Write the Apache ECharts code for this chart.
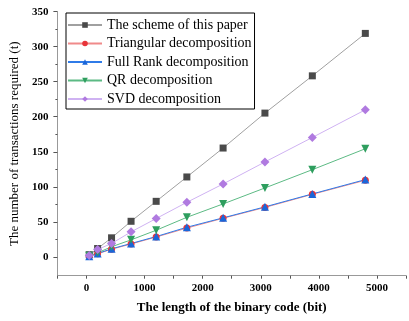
<!DOCTYPE html>
<html>
<head>
<meta charset="utf-8">
<script src="https://cdn.jsdelivr.net/npm/echarts@6/dist/echarts.min.js"></script>
<style>html,body{margin:0;padding:0;background:#fff;}#c{width:409px;height:321px;}</style>
</head>
<body>
<div id="c"></div>
<script>
var codeLengths = [48, 192, 432, 768, 1200, 1728, 2352, 3072, 3888, 4800];
var seriesNames = ['The scheme of this paper', 'Triangular decomposition', 'Full Rank decomposition', 'QR decomposition', 'SVD decomposition'];
var schemeValues = [3, 11.8, 27.1, 50.7, 79.2, 114.0, 155.3, 205.2, 258.4, 319.0];
var triangularValues = [1, 4.2, 10.8, 18.3, 28.2, 41.0, 55.0, 70.5, 89.2, 109.3];
var fullRankValues = [0.8, 4.7, 11.4, 19.0, 28.9, 42.2, 55.6, 71.3, 89.8, 110.2];
var qrValues = [1.5, 5.7, 14.3, 24.2, 37.9, 56.4, 75.5, 98.3, 124.4, 154.3];
var svdValues = [1.9, 10.4, 19.0, 35.6, 54.6, 77.8, 104.0, 135.4, 170.4, 209.9];
var yLabelValues = [0, 50, 100, 150, 200, 250, 300, 350];
var yMinorValues = [25, 75, 125, 175, 225, 275, 325];

function pairs(vals) {
  return codeLengths.map(function (x, i) { return [x, vals[i]]; });
}
var font = 'Liberation Serif';
var chart = echarts.init(document.getElementById('c'), null, { renderer: 'canvas' });
var mk = function (name, vals, symbol, size, lineColor, markColor, rot) {
  return {
    name: name, type: 'line', data: pairs(vals), symbol: symbol, symbolSize: size,
    symbolRotate: rot || 0,
    lineStyle: { color: lineColor, width: 1 },
    itemStyle: { color: markColor },
    emphasis: { disabled: true },
    animation: false
  };
};
chart.setOption({
  animation: false,
  grid: { left: 50, top: 11.7, right: -3, bottom: 45.3 },
  legend: {
    orient: 'vertical', left: 66, top: 13,
    borderColor: '#000', borderWidth: 1, borderRadius: 0,
    padding: [5, 3, 3, 1],
    itemWidth: 34, itemHeight: 7, itemGap: 4.5,
    textStyle: { fontFamily: font, fontSize: 14, color: '#000' },
    data: seriesNames
  },
  xAxis: {
    type: 'value', min: -500, max: 5500, interval: 500,
    name: 'The length of the binary code (bit)', nameLocation: 'middle', nameGap: 25,
    nameTextStyle: { fontFamily: font, fontSize: 13, fontWeight: 'bold', color: '#000' },
    axisLine: { show: true, onZero: false, lineStyle: { color: '#999', width: 1 } },
    axisTick: { show: true, length: 3, lineStyle: { color: '#555' } },
    axisLabel: {
      fontFamily: font, fontSize: 11, fontWeight: 'bold', color: '#000', margin: 7,
      formatter: function (v) { return (v >= 0 && v % 1000 === 0) ? String(v) : ''; }
    },
    splitLine: { show: false }
  },
  yAxis: [{
    type: 'value', min: -27, max: 350,
    name: 'The number of transactions required (t)', nameLocation: 'middle', nameGap: 29, nameRotate: 90,
    nameTextStyle: { fontFamily: font, fontSize: 13, color: '#000' },
    axisLine: { show: true, onZero: false, lineStyle: { color: '#999', width: 1 } },
    axisTick: { show: true, length: 4, customValues: yLabelValues, lineStyle: { color: '#555' } },
    axisLabel: { fontFamily: font, fontSize: 11, fontWeight: 'bold', color: '#000', margin: 9, customValues: yLabelValues },
    splitLine: { show: false }
  }, {
    type: 'value', min: -27, max: 350, position: 'left',
    axisLine: { show: false, onZero: false },
    axisTick: { show: true, length: 2, customValues: yMinorValues, lineStyle: { color: '#555' } },
    axisLabel: { show: false },
    splitLine: { show: false }
  }],
  series: [
    mk(seriesNames[0], schemeValues, 'rect', 7, '#a0a0a0', '#4a4a4a'),
    mk(seriesNames[1], triangularValues, 'circle', 7, '#f08a8a', '#e8353a'),
    mk(seriesNames[2], fullRankValues, 'triangle', 8, '#2f7be8', '#1a66d9'),
    mk(seriesNames[3], qrValues, 'triangle', 8, '#5cba84', '#2e9e5e', 180),
    mk(seriesNames[4], svdValues, 'diamond', 9, '#cfb2f2', '#b07ae0')
  ]
});
</script>
</body>
</html>
